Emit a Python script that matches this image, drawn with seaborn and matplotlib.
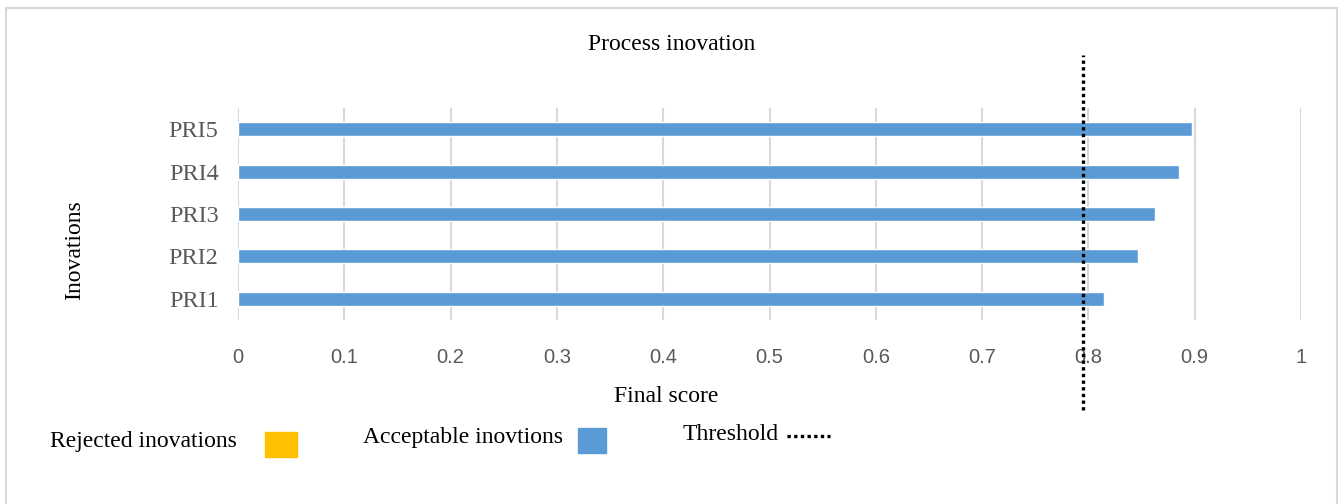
import matplotlib
matplotlib.use("Agg")
import matplotlib.pyplot as plt
import matplotlib.patches as mpatches
import pandas as pd
import seaborn as sns

innovations = ["PRI1", "PRI2", "PRI3", "PRI4", "PRI5"]
final_scores = [0.815, 0.847, 0.863, 0.885, 0.897]
threshold = 0.795
x_ticks = [0, 0.1, 0.2, 0.3, 0.4, 0.5, 0.6, 0.7, 0.8, 0.9, 1]
legend_labels = ["Rejected inovations", "Acceptable inovtions", "Threshold"]
legend_colors = ["#FFC000", "#5B9BD5"]

df = pd.DataFrame({"innovation": innovations, "score": final_scores})
df["status"] = ["Acceptable" if s >= threshold else "Rejected" for s in df["score"]]

sns.set_style("white")
plt.rcParams["font.family"] = ["Liberation Serif", "DejaVu Serif"]
plt.rcParams["text.color"] = "black"

W, H = 1340, 504
fig = plt.figure(figsize=(13.4, 5.04), dpi=100)
ax = fig.add_axes([238 / W, 1 - 320 / H, (1301 - 238) / W, 212 / H])

sns.barplot(data=df, x="score", y="innovation", hue="status",
            palette={"Acceptable": legend_colors[1], "Rejected": legend_colors[0]},
            order=innovations[::-1], width=0.33, orient="h", dodge=False,
            legend=False, saturation=1, ax=ax)

ax.set_xlim(0, 1)
ax.set_ylim(4.5, -0.5)
ax.set_xticks(x_ticks)
ax.set_xticklabels([f"{t:g}" for t in x_ticks], family="Liberation Sans",
                   fontsize=14.5, color="#595959")
ax.tick_params(axis="x", length=0, pad=20)
ax.tick_params(axis="y", length=0, pad=14, labelsize=17.5, labelcolor="#595959")
ax.grid(axis="x", color="#d9d9d9", linewidth=1.5)
ax.set_axisbelow(True)
for s in ax.spines.values():
    s.set_visible(False)

ax.set_xlabel("")
ax.set_ylabel("")
fig.text(666 / W, 1 - 396 / H, "Final score", ha="center", va="center", fontsize=17)
fig.text(75 / W, 1 - 250 / H, "Inovations", ha="center", va="center",
         rotation=90, fontsize=17)
fig.text(672 / W, 1 - 45 / H, "Process inovation", ha="center", va="center", fontsize=17)

ax.axvline(threshold, ymin=-0.425, ymax=1.25, color="black", linewidth=2.4,
           linestyle=(0, (1, 1)), clip_on=False, zorder=5)

# legend drawn by hand: text first, then the marker
fig.text(50 / W, 1 - 441 / H, legend_labels[0], fontsize=17, va="center")
fig.add_artist(mpatches.Rectangle((265 / W, 1 - 457 / H), 32 / W, 25 / H,
                                  transform=fig.transFigure, color=legend_colors[0]))
fig.text(363 / W, 1 - 437 / H, legend_labels[1], fontsize=17, va="center")
fig.add_artist(mpatches.Rectangle((578 / W, 1 - 453 / H), 28 / W, 25 / H,
                                  transform=fig.transFigure, color=legend_colors[1]))
fig.text(683 / W, 1 - 434 / H, legend_labels[2], fontsize=17, va="center")
fig.add_artist(plt.Line2D([787 / W, 830 / W], [1 - 436 / H, 1 - 436 / H],
                          transform=fig.transFigure, color="black",
                          linewidth=2.4, linestyle=(0, (1, 1))))

# light frame around the chart
fig.add_artist(mpatches.Rectangle((6 / W, -0.05), 1331 / W, 1 - 8 / H + 0.05,
                                  transform=fig.transFigure, fill=False,
                                  edgecolor="#d9d9d9", linewidth=1.5))

fig.savefig("out.png", dpi=100)
